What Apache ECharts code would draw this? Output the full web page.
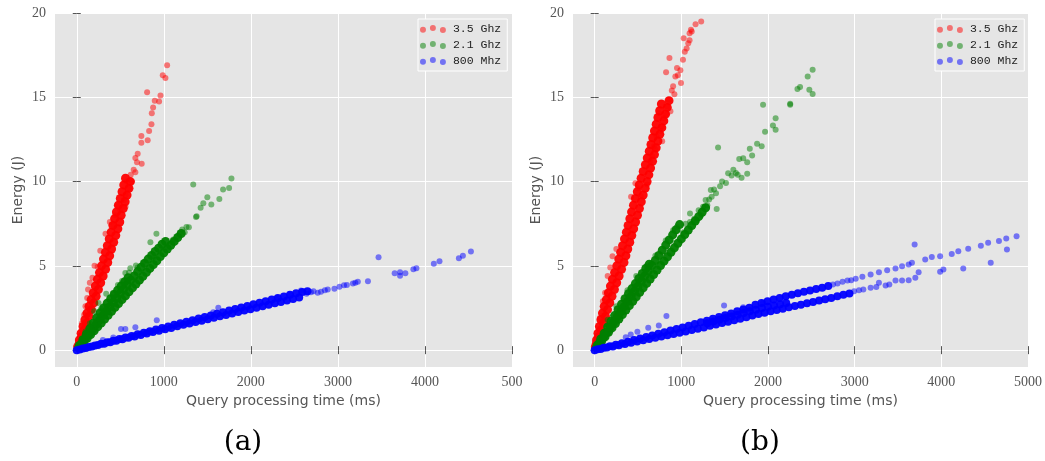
<!DOCTYPE html>
<html>
<head>
<meta charset="utf-8">
<script src="https://cdn.jsdelivr.net/npm/echarts@6/dist/echarts.min.js"></script>
<style>
  html, body { margin: 0; padding: 0; background: #fff; }
  #chart { width: 1045px; height: 461px; }
</style>
</head>
<body>
<div id="chart"></div>
<script>
// tick values / labels
var xTicks = [0, 1000, 2000, 3000, 4000, 5000];
var xTickLabelsA = ['0', '1000', '2000', '3000', '4000', '500'];
var xTickLabelsB = ['0', '1000', '2000', '3000', '4000', '5000'];
var yTicks = [0, 5, 10, 15, 20];
var seriesNames = ['3.5 Ghz', '2.1 Ghz', '800 Mhz'];

// (a) 3.5 Ghz : dense band + scattered points  [ms, J]
var redCoreA = [[10,0.2],[28,0.4],[30,0.6],[56,0.8],[50,1.0],[84,1.2],[72,1.4],[112,1.6],[94,1.8],[140,2.0],[117,2.2],[168,2.4],[141,2.6],[196,2.8],[165,3.0],[223,3.2],[189,3.4],[249,3.6],[213,3.8],[275,4.0],[237,4.2],[303,4.4],[261,4.6],[331,4.8],[285,5.0],[356,5.2],[307,5.4],[378,5.6],[329,5.8],[400,6.0],[351,6.2],[424,6.4],[373,6.6],[448,6.8],[395,7.0],[472,7.2],[415,7.4],[494,7.6],[435,7.8],[510,8.0],[456,8.2],[534,8.4],[478,8.6],[556,8.8],[500,9.0],[578,9.2],[520,9.4],[600,9.6],[540,9.8],[615,10.0],[560,10.2]];
var redSparseA = [[1038,16.9],[988,16.3],[1019,16.15],[808,15.3],[962,15.1],[896,14.8],[946,14.75],[877,14.4],[862,14.05],[858,13.4],[831,13.0],[815,12.45],[742,12.7],[742,12.3],[700,11.65],[673,11.4],[746,11.05],[692,11.15],[654,10.7],[673,10.55],[577,10.0],[635,10.0],[620,10.4],[600,9.6],[560,9.2],[540,8.9],[500,8.3],[470,8.6],[420,7.4],[204,5.0],[150,4.0],[180,4.3],[240,4.95],[120,3.1],[100,2.6],[380,7.6],[440,8.0],[60,1.6],[85,2.1],[130,3.6],[270,5.9],[330,6.9],[560,8.5]];

// (a) 2.1 Ghz
var greenCoreA = [[40,0.24],[80,0.47],[120,0.7],[160,0.93],[200,1.15],[240,1.38],[280,1.6],[320,1.84],[360,2.07],[400,2.3],[440,2.54],[480,2.77],[520,3.0],[560,3.22],[600,3.46],[640,3.69],[680,3.92],[720,4.15],[760,4.38],[800,4.62],[840,4.85],[880,5.08],[920,5.3],[960,5.55],[1000,5.78],[1040,6.0],[1080,6.22],[1120,6.45],[1160,6.68],[1200,6.92],
  [20,0.15],[60,0.42],[100,0.7],[140,0.97],[180,1.24],[220,1.5],[260,1.78],[300,2.05],[340,2.3],[380,2.58],[420,2.84],[460,3.1],[500,3.38],[540,3.62],[580,3.9],[620,4.15],[660,4.4],[700,4.66],[740,4.92],[780,5.15],[820,5.4],[860,5.62],[900,5.85],[940,6.05],[980,6.28],[1020,6.45],
  [30,0.28],[70,0.62],[110,0.95],[150,1.28],[190,1.6],[230,1.92],[270,2.22],[310,2.5],[350,2.78],[390,3.05],[430,3.3],[470,3.55],[510,3.8],[550,4.05],[590,4.3]];
var greenSparseA = [[150,1.6],[200,2.3],[280,2.45],[338,3.34],[473,3.87],[558,4.58],[615,4.86],[680,5.02],[846,6.4],[915,6.9],[1108,6.56],[1154,6.72],[1212,7.15],[1288,7.29],[1338,9.82],[1377,7.94],[1423,8.44],[1454,8.72],[1500,9.07],[1546,8.64],[1638,8.97],[1681,9.53],[1750,9.62],[1777,10.18],[1240,7.0],[1180,6.9],[1100,6.4],[1050,6.1],[1260,7.3],[1370,7.9],[420,3.4],[520,4.1],[600,4.6],[700,4.9],[760,5.2],[880,5.5],[250,2.8],[100,1.1]];

// (a) 800 Mhz
var blueCoreA = [[35,0.04],[105,0.13],[175,0.21],[245,0.3],[315,0.38],[385,0.47],[455,0.56],[525,0.64],[595,0.73],[665,0.81],[735,0.9],[805,0.98],[875,1.07],[945,1.15],[1015,1.24],[1085,1.32],[1155,1.41],[1225,1.5],[1295,1.58],[1365,1.67],[1435,1.75],[1505,1.84],[1575,1.92],[1645,2.01],[1715,2.09],[1785,2.18],[1855,2.26],[1925,2.35],[1995,2.43],[2065,2.52],[2135,2.6],[2205,2.69],[2275,2.78],[2345,2.86],[2415,2.95],[2485,3.03],[2555,3.12],
  [0,0.0],[70,0.1],[140,0.19],[210,0.28],[280,0.38],[350,0.47],[420,0.56],[490,0.66],[560,0.75],[630,0.84],[700,0.94],[770,1.03],[840,1.12],[910,1.22],[980,1.31],[1050,1.4],[1120,1.5],[1190,1.59],[1260,1.69],[1330,1.78],[1400,1.88],[1470,1.97],[1540,2.06],[1610,2.16],[1680,2.25],[1750,2.35],[1820,2.44],[1890,2.53],[1960,2.62],[2030,2.72],[2100,2.81],[2170,2.9],[2240,3.0],[2310,3.09],[2380,3.18],[2450,3.28],[2520,3.37],[2590,3.45],[2650,3.5]];
var blueSparseA = [[2576,3.54],[2691,3.44],[2768,3.4],[2806,3.46],[2883,3.6],[2960,3.64],[3018,3.76],[3103,3.87],[3172,3.95],[3229,4.05],[3345,4.09],[3467,5.51],[3652,4.56],[3714,4.62],[3714,4.41],[3775,4.56],[3867,4.8],[3902,4.86],[4102,5.12],[4167,5.28],[4390,5.45],[4436,5.6],[4528,5.85],[1626,2.51],[1568,2.25],[919,1.78],[673,1.36],[558,1.26],[508,1.26],[2640,3.35],[2720,3.5],[2850,3.55],[2450,3.3],[2300,3.1],[300,0.6],[420,0.75],[3070,3.85],[3200,4.0]];

// (b) 3.5 Ghz
var redCoreB = [[8,0.2],[20,0.4],[22,0.6],[45,0.8],[38,1.0],[72,1.2],[55,1.4],[100,1.6],[72,1.8],[125,2.0],[90,2.2],[148,2.4],[110,2.6],[175,2.8],[135,3.0],[200,3.2],[158,3.4],[228,3.6],[182,3.8],[254,4.0],[205,4.2],[282,4.4],[230,4.6],[310,4.8],[255,5.0],[338,5.2],[278,5.4],[360,5.6],[300,5.8],[382,6.0],[322,6.2],[405,6.4],[344,6.6],[428,6.8],[366,7.0],[450,7.2],[386,7.4],[472,7.6],[406,7.8],[494,8.0],[426,8.2],[516,8.4],[448,8.6],[538,8.8],[470,9.0],[560,9.2],[492,9.4],[583,9.6],[514,9.8],[605,10.0],[536,10.2],[625,10.4],[560,10.6],[645,10.8],[585,11.0],[668,11.2],[607,11.4],[690,11.6],[630,11.8],[710,12.0],[650,12.2],[730,12.4],[670,12.6],[752,12.8],[690,13.0],[775,13.2],[710,13.4],[798,13.6],[730,13.8],[818,14.0],[750,14.2],[838,14.4],[770,14.6],[858,14.8]];
var redSparseB = [[1229,19.49],[1164,19.33],[1111,19.0],[1095,18.8],[1061,17.9],[1095,18.38],[1027,18.5],[863,17.33],[824,16.48],[1019,17.23],[950,16.74],[989,16.6],[931,16.24],[996,15.85],[905,15.65],[920,15.18],[855,14.86],[836,14.47],[874,14.17],[740,14.07],[798,13.77],[775,13.28],[714,12.69],[779,12.39],[683,12.1],[664,11.5],[206,5.57],[607,9.82],[531,9.13],[960,16.3],[890,15.4],[820,14.0],[760,13.0],[700,11.9],[640,11.2],[150,4.4],[180,4.9],[120,3.4],[250,6.0],[500,9.6],[1040,17.7],[1120,18.9],[1080,18.2],[60,1.9],[95,2.9],[420,9.1],[470,9.9]];

// (b) 2.1 Ghz
var greenCoreB = [[40,0.26],[80,0.53],[120,0.79],[160,1.06],[200,1.32],[240,1.58],[280,1.85],[320,2.11],[360,2.38],[400,2.64],[440,2.9],[480,3.17],[520,3.43],[560,3.7],[600,3.96],[640,4.22],[680,4.49],[720,4.75],[760,5.02],[800,5.28],[840,5.54],[880,5.81],[920,6.07],[960,6.34],[1000,6.6],[1040,6.86],[1080,7.13],[1120,7.39],[1160,7.66],[1200,7.92],[1240,8.18],[1280,8.45],
  [20,0.15],[60,0.46],[100,0.76],[140,1.06],[180,1.37],[220,1.67],[260,1.98],[300,2.28],[340,2.58],[380,2.89],[420,3.19],[460,3.5],[500,3.8],[540,4.1],[580,4.41],[620,4.71],[660,5.02],[700,5.32],[740,5.62],[780,5.93],[820,6.23],[860,6.54],[900,6.84],[940,7.14],[980,7.45],
  [30,0.3],[70,0.66],[110,1.0],[150,1.38],[190,1.72],[230,2.05],[270,2.4],[310,2.72],[350,3.05],[390,3.35],[430,3.65],[470,3.95],[510,4.25],[550,4.55],[590,4.85],[630,5.1]];
var greenSparseB = [[2515,16.64],[2458,16.24],[2370,15.61],[2340,15.49],[2477,15.45],[2515,15.2],[2256,14.62],[2256,14.55],[1943,14.55],[2088,13.75],[2057,13.32],[2088,13.08],[1966,12.96],[1874,12.25],[1927,12.1],[1790,11.94],[1424,12.02],[1817,11.54],[1760,11.15],[1714,11.38],[1668,11.34],[1760,10.47],[1695,10.22],[1630,10.51],[1580,10.36],[1515,9.92],[1447,9.72],[1378,9.53],[1321,8.93],[1408,8.38],[905,7.11],[378,3.56],[1350,9.1],[1300,8.6],[1250,8.5],[1200,8.3],[1150,7.8],[1100,7.6],[1050,7.5],[1180,7.7],[1230,8.0],[1470,10.0],[1540,10.5],[1600,10.7],[1650,10.4],[1400,9.3],[1280,8.9],[1020,7.0],[700,5.6],[600,5.0],[480,4.4],[250,2.6],[150,1.8],[820,6.5],[950,7.3],[1100,8.1],[1340,9.5]];

// (b) 800 Mhz
var blueCoreB = [[35,0.05],[105,0.14],[175,0.23],[245,0.32],[315,0.41],[385,0.5],[455,0.6],[525,0.69],[595,0.78],[665,0.87],[735,0.97],[805,1.06],[875,1.16],[945,1.26],[1015,1.35],[1085,1.45],[1155,1.55],[1225,1.65],[1295,1.75],[1365,1.86],[1435,1.96],[1505,2.07],[1575,2.18],[1645,2.3],[1715,2.41],[1785,2.52],[1855,2.7],[1925,2.8],[1995,2.9],[2065,3.0],[2135,3.1],[2205,3.2],[2275,3.28],[2345,3.37],[2415,3.46],[2485,3.54],[2555,3.62],[2625,3.7],[2695,3.8],
  [0,0.0],[70,0.07],[140,0.15],[210,0.22],[280,0.29],[350,0.37],[420,0.44],[490,0.51],[560,0.59],[630,0.66],[700,0.73],[770,0.81],[840,0.88],[910,0.96],[980,1.03],[1050,1.11],[1120,1.19],[1190,1.27],[1260,1.35],[1330,1.44],[1400,1.52],[1470,1.61],[1540,1.69],[1610,1.78],[1680,1.86],[1750,1.95],[1820,2.05],[1890,2.14],[1960,2.22],[2030,2.3],[2100,2.38],[2170,2.46],[2240,2.54],[2310,2.62],[2380,2.7],[2450,2.78],[2520,2.86],[2590,2.94],[2660,3.02],[2730,3.1],[2800,3.2],[2870,3.28],[2940,3.36],
  [1300,1.6],[1370,1.7],[1440,1.8],[1510,1.9],[1580,2.0],[1650,2.1],[1720,2.2],[1790,2.3],[1860,2.4],[1930,2.5],[2000,2.58],[2070,2.65],[2140,2.72],[2210,2.8]];
var blueSparseB = [[2802,3.95],[2917,4.13],[3012,4.23],[3089,4.35],[3184,4.49],[3280,4.62],[3375,4.74],[3471,4.84],[3547,4.98],[3623,5.08],[3661,5.18],[3814,5.38],[3890,5.53],[3986,5.57],[4120,5.71],[4196,5.87],[4310,6.01],[4456,6.2],[4540,6.37],[4665,6.48],[4749,6.62],[4868,6.76],[2750,3.9],[2860,4.05],[2960,4.15],
  [2994,3.5],[3100,3.6],[3184,3.7],[3280,4.0],[3357,3.83],[3471,4.13],[3547,4.13],[3623,4.15],[3700,4.29],[3738,4.62],[3986,4.65],[4024,4.78],[4253,4.84],[4570,5.18],[4757,5.97],[3692,6.27],[3050,3.55],[3250,3.75],[3400,3.9],
  [828,2.02],[1493,2.65],[740,1.46],[618,1.33],[493,1.09],[416,0.93],[359,0.77],[1714,2.55],[1943,2.81]];

var colors = { '3.5 Ghz': '#ff0000', '2.1 Ghz': '#008000', '800 Mhz': '#0000ff' };
var gray = '#555555';
var threeDots = 'path://M0,4.7a2.5,2.5 0 1,0 5,0a2.5,2.5 0 1,0 -5,0Z M8.3,3.3a2.5,2.5 0 1,0 5,0a2.5,2.5 0 1,0 -5,0Z M16.7,5a2.5,2.5 0 1,0 5,0a2.5,2.5 0 1,0 -5,0Z';

function scatter(name, data, idx, opacity, size) {
  return {
    type: 'scatter', name: name, data: data,
    xAxisIndex: idx, yAxisIndex: idx,
    symbolSize: size,
    itemStyle: { color: colors[name], opacity: opacity },
    silent: true
  };
}

function xAxisFor(idx, labels, top) {
  return {
    type: 'value', gridIndex: idx, min: -250, max: 5000,
    position: top ? 'top' : 'bottom',
    axisLine: { show: false },
    axisTick: { show: true, length: 4, customValues: xTicks, lineStyle: { color: gray } },
    axisLabel: top ? { show: false } : {
      customValues: xTicks, margin: 8, color: gray,
      fontFamily: 'Liberation Serif', fontSize: 14,
      formatter: function (v) { return labels[xTicks.indexOf(v)]; }
    },
    splitLine: { show: !top, lineStyle: { color: '#ffffff', width: 1 } },
    name: top ? '' : 'Query processing time (ms)',
    nameLocation: 'middle', nameGap: 23,
    nameTextStyle: { color: gray, fontFamily: 'DejaVu Sans', fontSize: 14 }
  };
}

function yAxisFor(idx, right) {
  return {
    type: 'value', gridIndex: idx, min: -1, max: 20,
    position: right ? 'right' : 'left',
    axisLine: { show: false },
    axisTick: { show: true, length: 4, customValues: yTicks, lineStyle: { color: gray } },
    axisLabel: right ? { show: false } : {
      customValues: yTicks, margin: 9, color: gray,
      fontFamily: 'Liberation Serif', fontSize: 14
    },
    splitLine: { show: !right, lineStyle: { color: '#ffffff', width: 1 } },
    name: right ? '' : 'Energy (J)',
    nameLocation: 'middle', nameGap: 30,
    nameTextStyle: { color: gray, fontFamily: 'DejaVu Sans', fontSize: 14 }
  };
}

function legendAt(left) {
  return {
    data: seriesNames, left: left, top: 19, orient: 'vertical',
    backgroundColor: '#e5e5e5', borderColor: '#ffffff', borderWidth: 1,
    padding: [4, 6, 4, 2], itemGap: 4, itemWidth: 30, itemHeight: 8,
    icon: threeDots, itemStyle: { opacity: 0.5 },
    textStyle: { fontFamily: 'Liberation Mono', fontSize: 11.5, color: '#222' },
    selectedMode: false
  };
}

var chart = echarts.init(document.getElementById('chart'));
chart.setOption({
  animation: false,
  backgroundColor: '#ffffff',
  grid: [
    { left: 55, right: 533, top: 13, bottom: 94, show: true, backgroundColor: '#e5e5e5', borderWidth: 0 },
    { left: 573, right: 17, top: 13, bottom: 94, show: true, backgroundColor: '#e5e5e5', borderWidth: 0 }
  ],
  xAxis: [xAxisFor(0, xTickLabelsA, false), xAxisFor(1, xTickLabelsB, false), xAxisFor(0, null, true), xAxisFor(1, null, true)],
  yAxis: [yAxisFor(0, false), yAxisFor(1, false), yAxisFor(0, true), yAxisFor(1, true)],
  legend: [legendAt(418), legendAt(935)],
  series: [
    scatter('3.5 Ghz', redSparseA, 0, 0.5, 6),
    scatter('3.5 Ghz', redCoreA, 0, 0.95, 9),
    scatter('2.1 Ghz', greenSparseA, 0, 0.5, 6),
    scatter('2.1 Ghz', greenCoreA, 0, 0.95, 9),
    scatter('800 Mhz', blueSparseA, 0, 0.5, 6),
    scatter('800 Mhz', blueCoreA, 0, 0.95, 8),
    scatter('3.5 Ghz', redSparseB, 1, 0.5, 6),
    scatter('3.5 Ghz', redCoreB, 1, 0.95, 9),
    scatter('2.1 Ghz', greenSparseB, 1, 0.5, 6),
    scatter('2.1 Ghz', greenCoreB, 1, 0.95, 9),
    scatter('800 Mhz', blueSparseB, 1, 0.5, 6),
    scatter('800 Mhz', blueCoreB, 1, 0.95, 8)
  ],
  graphic: [
    { type: 'text', x: 243, y: 443, style: { text: '(a)', fill: '#000', font: '28px "DejaVu Serif"', textAlign: 'center', textVerticalAlign: 'middle' } },
    { type: 'text', x: 760, y: 443, style: { text: '(b)', fill: '#000', font: '28px "DejaVu Serif"', textAlign: 'center', textVerticalAlign: 'middle' } }
  ]
});
</script>
</body>
</html>
